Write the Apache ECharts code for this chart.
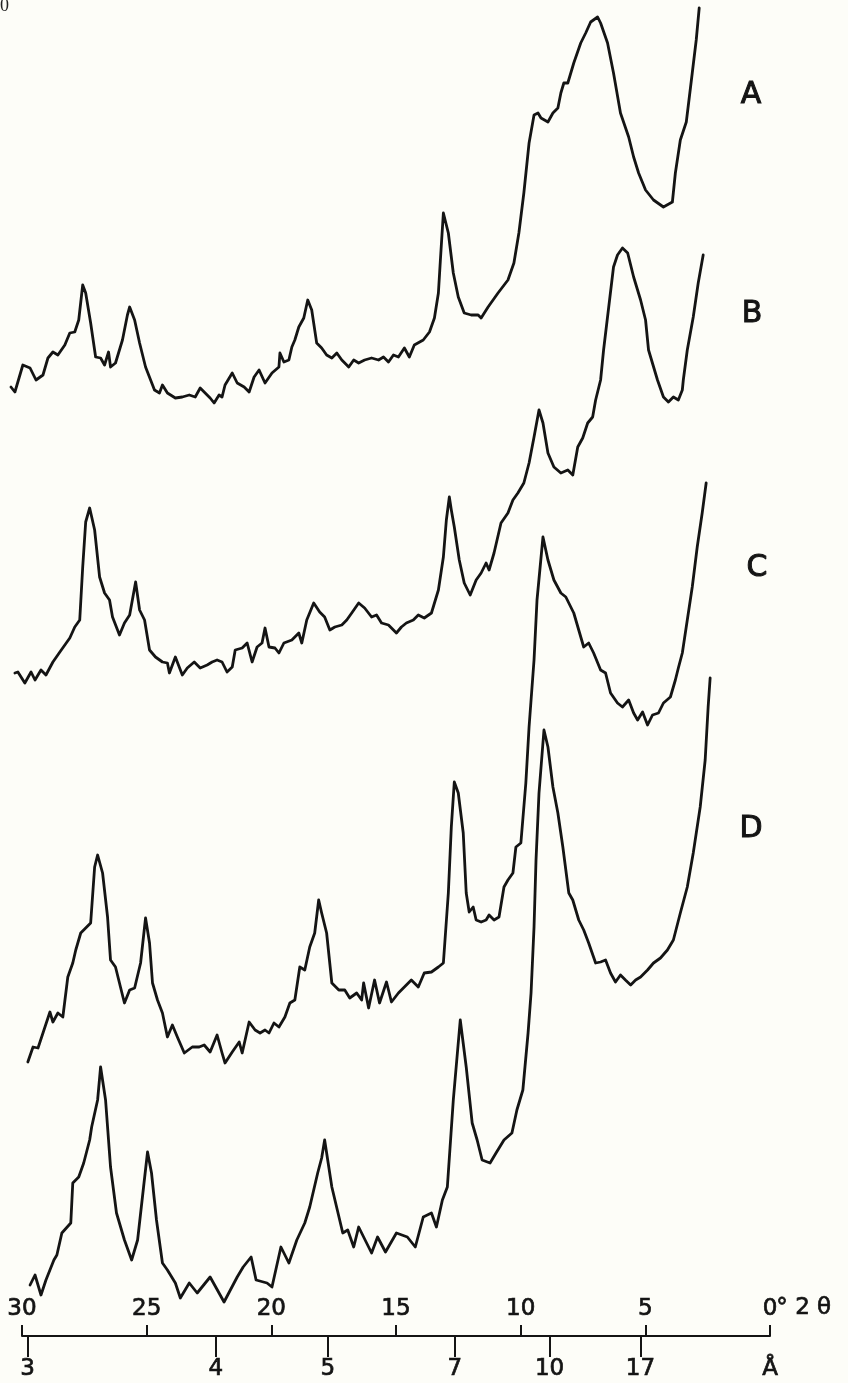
<!DOCTYPE html>
<html>
<head>
<meta charset="utf-8">
<script src="https://cdn.jsdelivr.net/npm/echarts@6/dist/echarts.min.js"></script>
<style>
html,body{margin:0;padding:0;background:#fdfdf8;}
#chart{width:848px;height:1383px;}
</style>
</head>
<body>
<div id="chart"></div>
<script>
// ---- tick labels ----
const twoThetaTicks = [30, 25, 20, 15, 10, 5, 0];   // degrees 2-theta
const dSpacingTicks = [3, 4, 5, 7, 10, 17];          // Angstrom
const wavelength = 1.5418;                           // Cu K-alpha, Angstrom
const traceNames = ['A', 'B', 'C', 'D'];

// ---- trace A ----
const thetaA = [30.56,30.40,30.08,29.79,29.55,29.27,29.07,28.87,28.67,28.39,
28.19,27.99,27.83,27.67,27.55,27.35,27.15,26.95,26.79,26.63,
26.55,26.35,26.07,25.87,25.78,25.58,25.38,25.14,24.78,24.58,
24.46,24.26,23.94,23.66,23.38,23.14,22.94,22.74,22.54,22.38,
22.18,22.06,21.94,21.65,21.45,21.17,20.97,20.77,20.57,20.33,
20.05,19.77,19.73,19.57,19.37,19.25,19.13,18.97,18.77,18.61,
18.45,18.25,18.05,17.85,17.64,17.44,17.24,16.96,16.76,16.56,
16.32,16.04,15.76,15.56,15.36,15.16,14.96,14.72,14.52,14.32,
13.96,13.71,13.51,13.35,13.27,13.15,12.95,12.75,12.55,12.31,
12.03,11.75,11.63,11.35,10.95,10.55,10.31,10.11,9.91,9.70,
9.50,9.34,9.22,8.94,8.74,8.54,8.42,8.30,8.14,7.90,
7.62,7.42,7.22,6.94,6.82,6.54,6.30,6.02,5.69,5.49,
5.29,5.01,4.69,4.29,3.93,3.81,3.61,3.37,3.13,2.97,
2.85];
const intensityA = [949,944,971,968,956,961,978,984,981,991,
1003,1004,1016,1051,1043,1013,979,978,971,984,
969,973,996,1021,1029,1016,993,969,946,943,
951,943,938,939,941,939,948,943,938,933,
941,939,951,963,953,949,944,959,966,953,
963,969,983,974,976,989,996,1009,1018,1036,
1026,993,988,981,978,983,976,969,976,973,
976,978,976,979,974,981,979,988,979,991,
996,1004,1018,1043,1076,1123,1103,1063,1039,1023,
1021,1021,1018,1029,1043,1056,1073,1103,1143,1193,
1221,1223,1218,1214,1223,1228,1243,1253,1253,1273,
1293,1303,1314,1319,1313,1293,1263,1223,1199,1179,
1163,1146,1136,1129,1134,1163,1196,1214,1263,1296,
1328];

// ---- trace B ----
const thetaB = [30.40,30.28,30.00,29.75,29.59,29.35,29.15,28.87,28.59,28.39,
28.19,27.99,27.79,27.67,27.55,27.39,27.19,26.99,26.79,26.59,
26.47,26.19,25.99,25.78,25.54,25.38,25.18,24.98,24.74,24.46,
24.26,24.18,23.94,23.66,23.46,23.18,22.94,22.66,22.46,22.26,
22.06,21.86,21.65,21.53,21.25,21.05,20.85,20.65,20.45,20.33,
20.17,19.93,19.77,19.57,19.25,18.97,18.85,18.65,18.37,18.13,
17.93,17.72,17.52,17.24,17.04,16.84,16.56,16.32,16.04,15.84,
15.64,15.36,15.04,14.84,14.64,14.36,14.16,13.92,13.63,13.35,
13.15,13.03,12.91,12.83,12.71,12.51,12.31,12.07,11.83,11.63,
11.43,11.31,11.11,10.83,10.55,10.35,10.15,9.91,9.70,9.50,
9.30,9.14,8.94,8.70,8.42,8.14,7.94,7.74,7.54,7.34,
7.14,7.02,6.82,6.70,6.30,6.14,5.94,5.73,5.49,5.21,
5.01,4.89,4.53,4.29,4.09,3.89,3.69,3.53,3.49,3.33,
3.09,2.89,2.69];
const intensityB = [663,664,653,664,656,666,661,674,684,691,
698,709,716,769,814,828,806,759,743,736,
719,701,713,721,754,726,716,686,679,674,
673,663,679,661,668,674,668,671,674,676,
674,664,669,686,688,693,674,689,693,708,
689,688,683,693,696,703,693,716,733,724,
719,706,709,711,716,723,733,728,719,721,
713,711,703,709,713,716,721,718,723,746,
779,816,839,826,809,776,753,741,756,763,
773,766,783,813,823,836,843,853,873,899,
926,913,883,869,863,866,861,889,898,913,
919,936,956,986,1069,1081,1088,1083,1059,1036,
1016,986,956,939,934,939,936,946,956,986,
1019,1053,1081];

// ---- trace C ----
const thetaC = [29.88,29.67,29.47,29.27,28.99,28.87,28.67,28.47,28.27,28.07,
27.95,27.75,27.55,27.35,27.19,27.07,26.87,26.67,26.55,26.35,
25.99,25.78,25.58,25.34,25.14,24.98,24.86,24.66,24.46,24.26,
24.06,23.86,23.58,23.26,22.98,22.78,22.54,22.26,22.06,21.94,
21.65,21.37,21.25,20.97,20.73,20.53,20.33,20.17,19.97,19.77,
19.53,19.33,19.13,18.93,18.73,18.53,18.33,18.17,18.05,17.85,
17.64,17.36,17.12,16.92,16.64,16.44,16.36,16.16,15.92,15.72,
15.44,15.24,14.96,14.72,14.44,14.16,13.92,13.63,13.35,13.15,
12.95,12.83,12.71,12.55,12.35,12.23,12.11,11.95,11.83,11.63,
11.43,11.31,11.11,10.91,10.71,10.55,10.35,10.23,10.03,9.83,
9.70,9.50,9.38,9.14,8.94,8.70,8.42,8.22,7.90,7.50,
7.30,7.10,6.82,6.62,6.42,6.14,5.94,5.69,5.49,5.33,
5.13,4.93,4.73,4.49,4.29,4.01,3.81,3.69,3.53,3.33,
3.13,2.93,2.73,2.57];
const intensityC = [274,289,288,303,324,314,323,319,359,373,
386,403,408,413,469,481,463,419,376,369,
333,346,348,373,418,393,353,336,323,299,
311,299,283,289,289,291,284,301,283,273,
284,294,283,314,306,303,306,303,313,309,
319,333,336,369,366,389,403,436,423,403,
353,346,346,338,343,336,353,328,356,333,
354,334,343,349,356,349,363,364,369,373,
443,509,554,543,503,443,424,429,416,414,
416,421,416,419,449,456,463,489,493,553,
609,676,736,799,776,756,743,739,723,689,
693,683,666,663,643,633,629,636,623,616,
624,611,621,623,633,639,656,668,683,716,
749,789,823,853];

// ---- trace D ----
const thetaD = [29.79,29.59,29.35,29.15,28.83,28.71,28.51,28.15,28.07,27.83,
27.63,27.39,27.31,27.07,26.95,26.75,26.55,26.31,25.99,25.70,
25.46,25.22,25.06,24.90,24.70,24.46,24.26,23.94,23.74,23.38,
23.06,22.54,21.98,21.45,21.21,20.89,20.69,20.25,20.05,19.69,
19.37,19.05,18.73,18.53,18.21,18.05,17.93,17.64,17.20,17.00,
16.76,16.56,16.24,16.04,15.80,15.48,15.04,14.60,14.28,13.96,
13.63,13.43,13.19,12.99,12.75,12.47,12.23,11.99,11.79,11.59,
11.27,11.03,10.71,10.39,10.19,9.95,9.74,9.62,9.50,9.42,
9.30,9.10,8.94,8.74,8.54,8.34,8.10,7.94,7.70,7.50,
7.30,7.02,6.82,6.62,6.42,6.22,6.02,5.82,5.61,5.41,
5.21,4.93,4.69,4.41,4.13,3.89,3.61,3.33,3.09,2.81,
2.61,2.49,2.41];
const intensityD = [51,61,41,56,76,81,103,113,153,159,
173,196,209,236,269,236,169,123,96,76,
96,149,184,163,116,73,66,53,38,53,
43,59,34,59,69,79,56,53,49,89,
73,96,113,129,163,178,196,149,103,106,
89,109,93,83,99,84,103,99,89,119,
123,109,136,149,236,316,269,213,196,176,
173,183,196,203,226,246,303,343,409,476,
543,606,589,549,523,489,443,436,416,406,
393,373,374,376,363,354,361,356,351,356,
359,366,373,378,386,396,423,449,483,529,
576,629,658];

// ---- build ----
function pairs(t, v) {
  const n = Math.min(t.length, v.length);
  const out = [];
  for (let i = 0; i < n; i++) out.push([t[i], v[i]]);
  return out;
}
// Bragg's law: position (2-theta) of each d-spacing tick
const dTickPos = dSpacingTicks.map(d => 2 * Math.asin(wavelength / (2 * d)) * 180 / Math.PI);
function dLabel(v) {
  if (Math.abs(v) < 1e-9) return 'Å';
  for (let i = 0; i < dTickPos.length; i++) {
    if (Math.abs(dTickPos[i] - v) < 1e-6) return String(dSpacingTicks[i]);
  }
  return '';
}

const INK = '#141414';
const traces = [pairs(thetaA, intensityA), pairs(thetaB, intensityB), pairs(thetaC, intensityC), pairs(thetaD, intensityD)];

// plotting scale: the scale axis spans 0..30 deg over 748 px; traces start slightly beyond 30 deg,
// so they are drawn on a twin (hidden) axis with the same px/deg that reaches 31 deg.
const axisLeft = 22, axisRight = 78, W = 848;
const pxPerDeg = (W - axisLeft - axisRight) / 30;
const plotMax = 31;

const chart = echarts.init(document.getElementById('chart'), null, {renderer: 'canvas', width: 848, height: 1383});
chart.setOption({
  backgroundColor: '#fdfdf8',
  animation: false,
  grid: [
    {left: axisLeft, right: axisRight, top: 0, bottom: 47, containLabel: false},
    {left: axisLeft - pxPerDeg * (plotMax - 30), right: axisRight, top: 0, bottom: 47, containLabel: false}
  ],
  xAxis: [
    {
      gridIndex: 0, type: 'value', min: 0, max: 30, interval: 5, inverse: true, position: 'bottom',
      axisLine: {show: true, lineStyle: {color: INK, width: 2}},
      axisTick: {show: true, inside: true, length: 11, lineStyle: {color: INK, width: 2}},
      axisLabel: {
        inside: true, margin: 15, fontFamily: 'DejaVu Sans', fontSize: 23, color: INK,
        textBorderColor: INK, textBorderWidth: 0.7,
        customValues: twoThetaTicks,
        formatter: v => String(v)
      },
      splitLine: {show: false}
    },
    {
      gridIndex: 0, type: 'value', min: 0, max: 30, inverse: true, position: 'bottom', offset: 0,
      axisLine: {show: false},
      axisTick: {show: true, inside: false, length: 21, customValues: dTickPos, lineStyle: {color: INK, width: 2}},
      axisLabel: {
        margin: 22, fontFamily: 'DejaVu Sans', fontSize: 23, color: INK,
        textBorderColor: INK, textBorderWidth: 0.7,
        customValues: dTickPos.concat([0]),
        formatter: v => dLabel(v)
      },
      splitLine: {show: false}
    },
    {gridIndex: 1, type: 'value', min: 0, max: plotMax, inverse: true, show: false}
  ],
  yAxis: [
    {gridIndex: 0, type: 'value', min: 0, max: 1336, show: false},
    {gridIndex: 1, type: 'value', min: 0, max: 1336, show: false}
  ],
  series: traces.map((d, i) => ({
    name: traceNames[i],
    type: 'line',
    xAxisIndex: 2,
    yAxisIndex: 1,
    data: d,
    showSymbol: false,
    clip: false,
    smooth: false,
    lineStyle: {color: INK, width: 2.8, join: 'round', cap: 'round'}
  })),
  graphic: [
    {type: 'text', left: 776, top: 1296, style: {text: '° 2 θ', font: '23px "DejaVu Sans"', fill: INK, stroke: INK, lineWidth: 0.7}},
    {type: 'text', left: 0, top: -3, style: {text: '0', font: '18px "Liberation Serif"', fill: '#222'}},
    {type: 'text', x: 751, y: 95, style: {text: traceNames[0], font: '30px "DejaVu Sans"', fill: INK, stroke: INK, lineWidth: 1, align: 'center', verticalAlign: 'middle'}},
    {type: 'text', x: 752, y: 314, style: {text: traceNames[1], font: '30px "DejaVu Sans"', fill: INK, stroke: INK, lineWidth: 1, align: 'center', verticalAlign: 'middle'}},
    {type: 'text', x: 757, y: 568, style: {text: traceNames[2], font: '30px "DejaVu Sans"', fill: INK, stroke: INK, lineWidth: 1, align: 'center', verticalAlign: 'middle'}},
    {type: 'text', x: 751, y: 829, style: {text: traceNames[3], font: '30px "DejaVu Sans"', fill: INK, stroke: INK, lineWidth: 1, align: 'center', verticalAlign: 'middle'}}
  ]
});
</script>
</body>
</html>
